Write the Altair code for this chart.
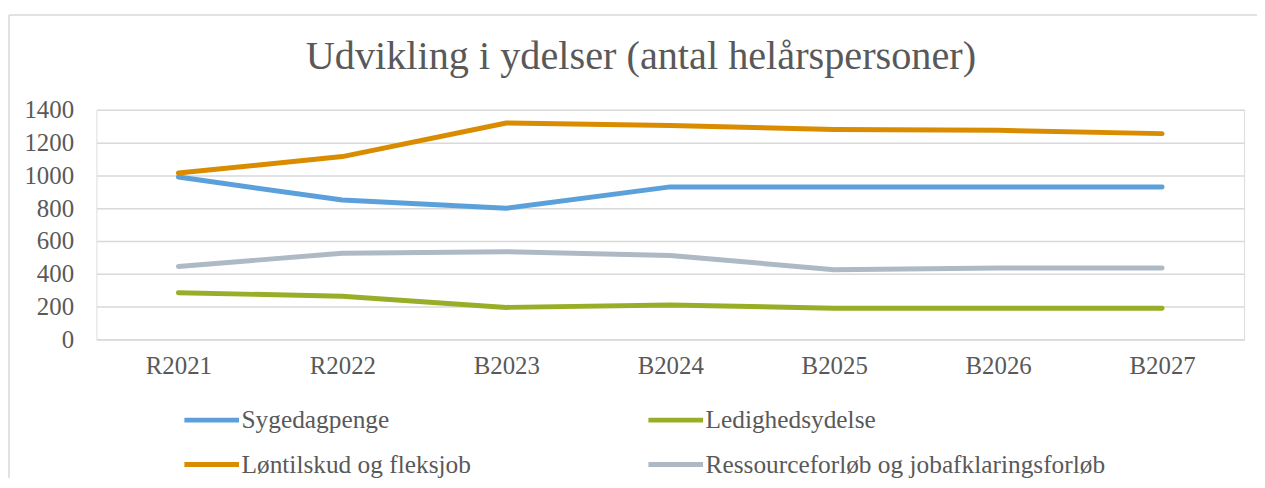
import altair as alt
import pandas as pd

categories = ["R2021", "R2022", "B2023", "B2024", "B2025", "B2026", "B2027"]
series_names = ["Sygedagpenge", "Ledighedsydelse", "Løntilskud og fleksjob",
                "Ressourceforløb og jobafklaringsforløb"]
sygedagpenge = [990, 850, 800, 930, 930, 930, 930]
ledighedsydelse = [285, 263, 195, 210, 190, 190, 190]
lontilskud = [1015, 1115, 1320, 1305, 1280, 1275, 1255]
ressource = [445, 525, 535, 512, 425, 435, 435]
y_ticks = [0, 200, 400, 600, 800, 1000, 1200, 1400]
colors = ["#5BA0DB", "#97AF28", "#DA8C00", "#AEB9C6"]
title_text = "Udvikling i ydelser (antal helårspersoner)"

rows = []
for name, vals in zip(series_names, [sygedagpenge, ledighedsydelse, lontilskud, ressource]):
    for c, v in zip(categories, vals):
        rows.append({"År": c, "Serie": name, "Værdi": v})
df = pd.DataFrame(rows)

FONT = "Liberation Serif"
TXT = "#595959"
W, H = 1155, 231

lines = alt.Chart(df).mark_line(strokeWidth=5, strokeCap="round", strokeJoin="round").encode(
    x=alt.X("År:N", sort=categories, title=None,
            scale=alt.Scale(type="point", padding=0.5),
            axis=alt.Axis(labelAngle=0, ticks=False, domain=True, domainColor="#D9D9D9",
                          domainWidth=1.5, labelFontSize=25, labelFont=FONT,
                          labelColor=TXT, labelPadding=14, grid=False)),
    y=alt.Y("Værdi:Q", title=None,
            scale=alt.Scale(domain=[0, 1400], nice=False),
            axis=alt.Axis(values=y_ticks, format="d", ticks=False, domain=False, grid=True,
                          gridColor="#D9D9D9", gridWidth=1.5, labelFontSize=25,
                          labelFont=FONT, labelColor=TXT, labelPadding=23)),
    color=alt.Color("Serie:N", sort=series_names,
                    scale=alt.Scale(domain=series_names, range=colors),
                    legend=alt.Legend(title=None, orient="none", legendX=86, legendY=282,
                                      direction="horizontal",
                                      columns=2, columnPadding=168, rowPadding=1,
                                      symbolType="stroke", symbolSize=3025,
                                      symbolStrokeWidth=5, labelFontSize=25.5,
                                      labelFont=FONT, labelColor=TXT, labelOffset=0,
                                      labelLimit=600, padding=0)),
    order=alt.Order("Serie:N"),
)

frame_df = pd.DataFrame({"k": [0]})
top_border = alt.Chart(frame_df).mark_rule(color="#D9D9D9", strokeWidth=1.5).encode(
    x=alt.value(-88), x2=alt.value(1200), y=alt.value(-95.5))
left_border = alt.Chart(frame_df).mark_rule(color="#D9D9D9", strokeWidth=1.5).encode(
    x=alt.value(-88), y=alt.value(-95.5), y2=alt.value(400))
title = alt.Chart(frame_df).mark_text(font=FONT, fontSize=40.5, color=TXT, align="center",
                                      baseline="alphabetic").encode(
    x=alt.value(548), y=alt.value(-41), text=alt.value(title_text))

chart = alt.layer(top_border, left_border, title, lines).properties(
    width=W, height=H,
    autosize=alt.AutoSizeParams(type="none"),
    padding={"left": 89, "top": 101, "right": 13, "bottom": 138},
).configure_view(stroke=None).configure(background="white")

chart.save("out.html", embed_options={"renderer": "svg", "actions": False})
